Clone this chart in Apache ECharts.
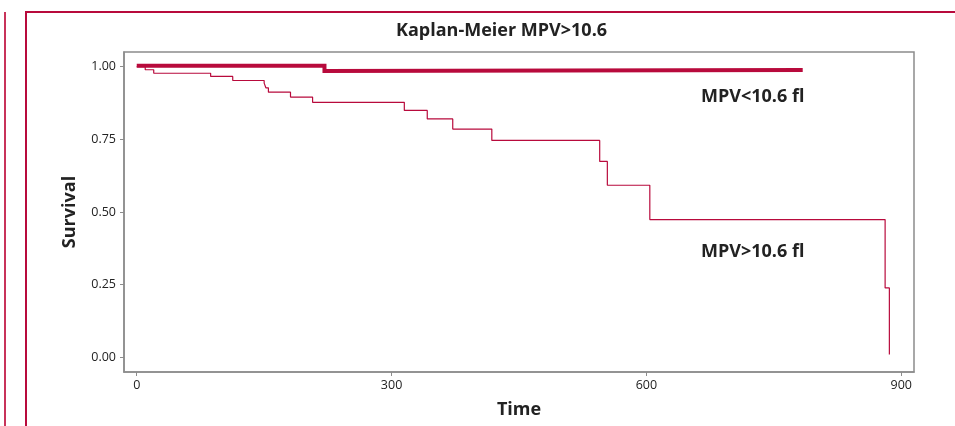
<!DOCTYPE html>
<html>
<head>
<meta charset="utf-8">
<script src="https://cdn.jsdelivr.net/npm/echarts@6/dist/echarts.min.js"></script>
<style>
html,body{margin:0;padding:0;background:#fff;}
#chart{width:955px;height:426px;}
</style>
</head>
<body>
<div id="chart"></div>
<script>
// ---- data ----
var xTicks = [0, 300, 600, 900];
var yTicks = [0, 0.25, 0.5, 0.75, 1.0];

// MPV>10.6 fl (thin curve): event times and survival
var highTime = [0, 10, 20, 87, 113, 150, 152, 155, 181, 207, 315, 342, 372, 418, 545, 554, 604, 881, 886];
var highSurv = [1.0, 0.989, 0.977, 0.966, 0.952, 0.943, 0.927, 0.912, 0.895, 0.877, 0.849, 0.820, 0.785, 0.746, 0.674, 0.592, 0.474, 0.239, 0.01];

// MPV<10.6 fl (thick curve)
var lowTime = [0, 221, 221, 784];
var lowSurv = [1.003, 1.003, 0.985, 0.988];

var titleText = 'Kaplan-Meier MPV>10.6';
var labelLow = 'MPV<10.6 fl';
var labelHigh = 'MPV>10.6 fl';

function zip(a, b) { return a.map(function (v, i) { return [v, b[i]]; }); }

var RED = '#B80A3C';
var GREY = '#8c8c8c';
var FONT = 'Open Sans';

var chart = echarts.init(document.getElementById('chart'));
chart.setOption({
  animation: false,
  backgroundColor: '#fff',
  title: {
    text: titleText,
    left: 391, top: 17,
    textStyle: { fontFamily: FONT, fontSize: 18, fontWeight: 'bold', color: '#222' }
  },
  grid: {
    left: 124, top: 52, right: 41, bottom: 54,
    show: true, borderColor: GREY, borderWidth: 1.5, backgroundColor: 'transparent'
  },
  xAxis: {
    type: 'value', min: -15, max: 915,
    name: 'Time', nameLocation: 'middle', nameGap: 29,
    nameTextStyle: { fontFamily: FONT, fontSize: 18, fontWeight: 'bold', color: '#222' },
    axisLine: { show: true, onZero: false, lineStyle: { color: GREY, width: 1.5 } },
    axisTick: { show: true, length: 4, customValues: xTicks, lineStyle: { color: GREY } },
    axisLabel: { customValues: xTicks, margin: 7, fontFamily: FONT, fontSize: 12.5, color: '#222' },
    splitLine: { show: false }
  },
  yAxis: {
    type: 'value', min: -0.05, max: 1.05,
    name: 'Survival', nameLocation: 'middle', nameGap: 45,
    nameTextStyle: { fontFamily: FONT, fontSize: 18, fontWeight: 'bold', color: '#222' },
    axisLine: { show: true, onZero: false, lineStyle: { color: GREY, width: 1.5 } },
    axisTick: { show: true, length: 4, customValues: yTicks, lineStyle: { color: GREY } },
    axisLabel: {
      customValues: yTicks, margin: 8, fontFamily: FONT, fontSize: 12.5, color: '#222',
      formatter: function (v) { return v.toFixed(2); }
    },
    splitLine: { show: false }
  },
  series: [
    {
      name: labelHigh, type: 'line', step: 'end', showSymbol: false,
      data: zip(highTime, highSurv),
      lineStyle: { color: RED, width: 1.2 }, z: 2
    },
    {
      name: labelLow, type: 'line', showSymbol: false,
      data: zip(lowTime, lowSurv),
      lineStyle: { color: RED, width: 4, cap: 'butt', join: 'miter' }, z: 3
    }
  ],
  graphic: [
    { type: 'line', shape: { x1: 5, y1: 12, x2: 5, y2: 426 }, style: { stroke: '#C8335A', lineWidth: 2 } },
    { type: 'line', shape: { x1: 26, y1: 12, x2: 26, y2: 426 }, style: { stroke: RED, lineWidth: 2 } },
    { type: 'line', shape: { x1: 25, y1: 12, x2: 955, y2: 12 }, style: { stroke: RED, lineWidth: 2 } },
    { type: 'text', left: 701, top: 88, style: { text: labelLow, font: 'bold 18px "Open Sans"', fill: '#222' } },
    { type: 'text', left: 701, top: 243, style: { text: labelHigh, font: 'bold 18px "Open Sans"', fill: '#222' } }
  ]
});
</script>
</body>
</html>
